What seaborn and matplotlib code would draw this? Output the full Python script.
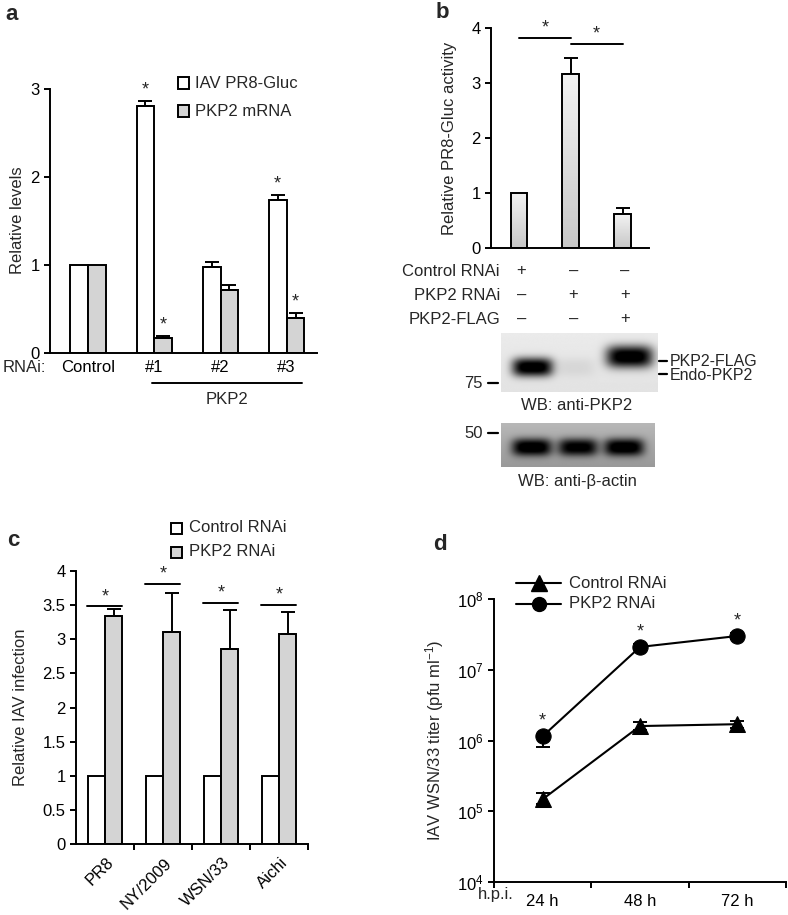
import numpy as np
import pandas as pd
import matplotlib
matplotlib.use('Agg')
import matplotlib.pyplot as plt
import seaborn as sns
from matplotlib.patches import Rectangle
from matplotlib.lines import Line2D
from matplotlib import transforms
from matplotlib.ticker import FuncFormatter

# ---- data ----
# panel a
a_groups = ['Control', '#1', '#2', '#3']
a_gluc = [1.0, 2.81, 0.98, 1.74]
a_gluc_err = [0.0, 0.05, 0.05, 0.05]
a_mrna = [1.0, 0.17, 0.72, 0.40]
a_mrna_err = [0.0, 0.02, 0.05, 0.05]
a_sig = [False, True, False, True]

# panel b
b_conditions = ['ctrl', 'kd', 'kd+flag']
b_activity = [1.0, 3.17, 0.61]
b_err = [0.0, 0.28, 0.12]
b_sig_pairs = [(0, 1, 3.82), (1, 2, 3.71)]
b_table = {
    'Control RNAi': ['+', '\u2013', '\u2013'],
    'PKP2 RNAi': ['\u2013', '+', '+'],
    'PKP2-FLAG': ['\u2013', '\u2013', '+'],
}
blot_flag_band = [0.0, 0.0, 1.0]
blot_endo_band = [1.0, 0.06, 0.0]
blot_actin_band = [0.75, 0.7, 0.75]

# panel c
c_strains = ['PR8', 'NY/2009', 'WSN/33', 'Aichi']
c_control = [1.0, 1.0, 1.0, 1.0]
c_pkp2 = [3.34, 3.10, 2.86, 3.07]
c_pkp2_err = [0.10, 0.58, 0.57, 0.33]
c_sig = [3.48, 3.81, 3.53, 3.50]

# panel d
d_times = ['24 h', '48 h', '72 h']
d_control = [1.48e5, 1.6e6, 1.7e6]
d_control_lo = [0.2e5, 0.2e6, 0.2e6]
d_control_hi = [0.35e5, 0.2e6, 0.2e6]
d_pkp2 = [1.15e6, 2.1e7, 3.0e7]
d_pkp2_lo = [0.35e6, 2.0e6, 3.0e6]
d_pkp2_hi = [0.1e6, 2.0e6, 3.0e6]

W, H = 788, 915
GRAY = '#d4d4d4'
FS = 12

sns.set_style('ticks')
plt.rcParams['font.family'] = ['Liberation Sans', 'DejaVu Sans']
plt.rcParams.update({
    'font.size': FS,
    'axes.linewidth': 1.4,
    'xtick.major.width': 1.4, 'ytick.major.width': 1.4,
    'xtick.major.size': 4, 'ytick.major.size': 4,
    'xtick.direction': 'out', 'ytick.direction': 'out',
    'xtick.labelsize': FS, 'ytick.labelsize': FS,
    'axes.labelsize': FS,
    'xtick.color': 'black', 'ytick.color': 'black',
    'axes.edgecolor': 'black',
    'mathtext.fontset': 'custom',
    'mathtext.rm': 'Liberation Sans',
    'mathtext.it': 'Liberation Sans:italic',
})

fig = plt.figure(figsize=(W / 100, H / 100), dpi=100)


def px_axes(l, t, r, b):
    return fig.add_axes([l / W, 1 - b / H, (r - l) / W, (b - t) / H])


def ftext(x, y, s, **kw):
    return fig.text(x / W, 1 - y / H, s, **kw)


def fline(x0, x1, y, lw=1.4, **kw):
    fig.add_artist(Line2D([x0 / W, x1 / W], [1 - y / H, 1 - y / H],
                          transform=fig.transFigure, color='black', lw=lw, **kw))


def star(ax, x, y, dy=2):
    ax.annotate('*', (x, y), xytext=(0, dy), textcoords='offset points',
                ha='center', va='bottom', fontsize=13, annotation_clip=False)


def bar_centers(container):
    return [p.get_x() + p.get_width() / 2 for p in container]


def up_errors(ax, xs, ys, errs, capsize=5):
    xs, ys, errs = np.array(xs), np.array(ys), np.array(errs)
    m = errs > 0
    ax.errorbar(xs[m], ys[m], yerr=[np.zeros(m.sum()), errs[m]], fmt='none',
                ecolor='black', elinewidth=1.4, capsize=capsize, capthick=1.4, zorder=1)


def ylabel_at(ax, text, right_px, center_px):
    # y-label anchor is its right edge on screen (rotated, va='bottom')
    ax.set_ylabel(text)
    ax.yaxis.set_label_coords(right_px / W, 1 - center_px / H, transform=fig.transFigure)


# ---------------- panel a ----------------
ax_a = px_axes(50, 89, 317, 353)
df_a = pd.DataFrame({
    'group': a_groups * 2,
    'series': ['gluc'] * 4 + ['mrna'] * 4,
    'value': a_gluc + a_mrna,
})
sns.barplot(data=df_a, x='group', y='value', hue='series', palette=['white', GRAY],
            edgecolor='black', linewidth=1.4, width=0.54, errorbar=None,
            legend=False, ax=ax_a)
for cont, vals, errs in zip(ax_a.containers, [a_gluc, a_mrna], [a_gluc_err, a_mrna_err]):
    xs = bar_centers(cont)
    up_errors(ax_a, xs, vals, errs)
    for x, v, e, s in zip(xs, vals, errs, a_sig):
        if s:
            star(ax_a, x, v + e)
ax_a.set_xlim(-0.58, 3.46)
ax_a.set_ylim(0, 3)
ax_a.set_yticks([0, 1, 2, 3])
ax_a.set_xlabel('')
ylabel_at(ax_a, 'Relative levels', 25, 220)
ax_a.tick_params(axis='x', length=0, pad=5)
sns.despine(ax=ax_a)
ftext(3, 368, 'RNAi:', ha='left', va='center')
fline(152, 302, 383)
ftext(227, 400, 'PKP2', ha='center', va='center')
for i, (lab, col) in enumerate([('IAV PR8-Gluc', 'white'), ('PKP2 mRNA', GRAY)]):
    y = 83 + 28 * i
    fig.add_artist(Rectangle((178 / W, 1 - (y + 5.5) / H), 11 / W, 11 / H,
                             transform=fig.transFigure, facecolor=col,
                             edgecolor='black', lw=1.4))
    ftext(195, y, lab, ha='left', va='center')

# ---------------- panel b ----------------
ax_b = px_axes(491, 28, 649, 248)
sns.barplot(x=b_conditions, y=b_activity, color=GRAY, edgecolor='black',
            linewidth=1.4, width=0.32, errorbar=None, ax=ax_b)
grad = np.linspace(0.78, 0.95, 64).reshape(-1, 1)
for p in ax_b.patches:
    bb = p.get_bbox()
    p.set_facecolor('none')
    p.set_zorder(2)
    im = ax_b.imshow(grad, cmap='gray', vmin=0, vmax=1, origin='lower', aspect='auto',
                     extent=[bb.x0, bb.x1, bb.y0, bb.y1], zorder=1.5)
    im.set_clip_path(p)
xs_b = bar_centers(ax_b.patches)
up_errors(ax_b, xs_b, b_activity, b_err)
for i, j, h in b_sig_pairs:
    ax_b.plot([xs_b[i], xs_b[j]], [h, h], color='black', lw=1.4, clip_on=False)
    star(ax_b, (xs_b[i] + xs_b[j]) / 2, h, dy=1)
ax_b.set_xlim(-0.54, 2.51)
ax_b.set_ylim(0, 4)
ax_b.set_yticks([0, 1, 2, 3, 4])
ax_b.set_xticks([])
ylabel_at(ax_b, 'Relative PR8-Gluc activity', 457, 138)
sns.despine(ax=ax_b)

tb = transforms.blended_transform_factory(ax_b.transData, fig.transFigure)
for r, (row, signs) in enumerate(b_table.items()):
    y = 271 + 24 * r
    ftext(500, y, row, ha='right', va='center')
    for x, s in zip(xs_b, signs):
        ax_b.text(x + 0.05, 1 - y / H, s, transform=tb, ha='center', va='center')


# western blots drawn as intensity images
def blot(ax, lanes, bands, bg_top, bg_bot, ny=120, nx=300):
    yy, xx = np.mgrid[0:1:ny * 1j, 0:1:nx * 1j]
    img = bg_top + (bg_bot - bg_top) * yy
    for inten, cy, sx, sy in bands:
        for lx, a in zip(lanes, inten):
            img = img - a * np.exp(-np.abs((xx - lx) / sx) ** 4) * np.exp(-np.abs((yy - cy) / sy) ** 2.5)
    ax.imshow(np.clip(img, 0, 1), cmap='gray', vmin=0, vmax=1, aspect='auto',
              extent=[0, 1, 1, 0], interpolation='bilinear')
    ax.axis('off')


ax_w1 = px_axes(501, 333, 657, 392)
blot(ax_w1, [0.2, 0.47, 0.82],
     [(blot_endo_band, 0.58, 0.13, 0.16), (blot_flag_band, 0.40, 0.15, 0.19)],
     0.92, 0.89)
ax_w2 = px_axes(501, 423, 655, 467)
blot(ax_w2, [0.2, 0.5, 0.8], [(blot_actin_band, 0.55, 0.13, 0.2)], 0.72, 0.6)

ftext(483, 383, '75', ha='right', va='center')
fline(488, 498, 383, lw=1.6)
ftext(483, 433, '50', ha='right', va='center')
fline(488, 498, 433, lw=1.6)
fline(659, 667, 361, lw=1.6)
ftext(670, 361, 'PKP2-FLAG', ha='left', va='center', fontsize=11.5)
fline(659, 667, 374, lw=1.6)
ftext(670, 376, 'Endo-PKP2', ha='left', va='center', fontsize=11.5)
ftext(577, 405, 'WB: anti-PKP2', ha='center', va='center')
ftext(577, 481, 'WB: anti-\u03b2-actin', ha='center', va='center')

# ---------------- panel c ----------------
ax_c = px_axes(76, 571, 308, 844)
df_c = pd.DataFrame({
    'strain': c_strains * 2,
    'series': ['Control RNAi'] * 4 + ['PKP2 RNAi'] * 4,
    'value': c_control + c_pkp2,
})
sns.barplot(data=df_c, x='strain', y='value', hue='series', palette=['white', GRAY],
            edgecolor='black', linewidth=1.4, width=0.6, errorbar=None,
            legend=False, ax=ax_c)
xs_c = bar_centers(ax_c.containers[1])
up_errors(ax_c, xs_c, c_pkp2, c_pkp2_err, capsize=5)
for i, h in enumerate(c_sig):
    ax_c.plot([i - 0.31, i + 0.29], [h, h], color='black', lw=1.4, clip_on=False)
    star(ax_c, i, h, dy=1)
ax_c.set_xlim(-0.5, 3.5)
ax_c.set_ylim(0, 4)
ax_c.set_yticks(np.arange(0, 4.01, 0.5))
ax_c.yaxis.set_major_formatter(FuncFormatter(lambda v, _: f'{v:g}'))
ax_c.set_xticks([0.5, 1.5, 2.5, 3.5])
ax_c.set_xticklabels([])
ax_c.set_xticks(range(4), minor=True)
ax_c.set_xticklabels(c_strains, minor=True, rotation=45, ha='right',
                     rotation_mode='anchor')
ax_c.tick_params(axis='x', which='minor', length=0, pad=8)
shift = transforms.ScaledTranslation(1 / 72, 0, fig.dpi_scale_trans)
for lab in ax_c.get_xticklabels(minor=True):
    lab.set_transform(lab.get_transform() + shift)
ax_c.set_xlabel('')
ylabel_at(ax_c, 'Relative IAV infection', 28, 707)
sns.despine(ax=ax_c)
for i, (lab, col) in enumerate([('Control RNAi', 'white'), ('PKP2 RNAi', GRAY)]):
    y = 528 + 24 * i
    fig.add_artist(Rectangle((171 / W, 1 - (y + 5.5) / H), 11 / W, 11 / H,
                             transform=fig.transFigure, facecolor=col,
                             edgecolor='black', lw=1.4))
    ftext(189, y, lab, ha='left', va='center')

# ---------------- panel d ----------------
ax_d = px_axes(494, 599, 786, 882)
xd = [0.5, 1.5, 2.5]
sns.lineplot(x=xd, y=d_control, color='black', lw=1.5, marker='^', markersize=12,
             markeredgecolor='black', ax=ax_d)
sns.lineplot(x=xd, y=d_pkp2, color='black', lw=1.5, marker='o', markersize=11,
             markeredgecolor='black', ax=ax_d)
ax_d.errorbar(xd, d_control, yerr=[d_control_lo, d_control_hi], fmt='none',
              ecolor='black', elinewidth=1.4, capsize=5, capthick=1.4)
ax_d.errorbar(xd, d_pkp2, yerr=[d_pkp2_lo, d_pkp2_hi], fmt='none',
              ecolor='black', elinewidth=1.4, capsize=5, capthick=1.4)
for x, v in zip(xd, d_pkp2):
    star(ax_d, x, v, dy=5)
ax_d.set_yscale('log')
ax_d.set_ylim(1e4, 1e8)
ax_d.set_yticks([1e4, 1e5, 1e6, 1e7, 1e8])
ax_d.yaxis.set_minor_locator(matplotlib.ticker.NullLocator())
ax_d.set_xlim(0, 3)
ax_d.set_xticks([0, 1, 2, 3])
ax_d.set_xticklabels([])
ax_d.set_xticks(xd, minor=True)
ax_d.set_xticklabels(d_times, minor=True)
ax_d.tick_params(axis='x', which='minor', length=0, pad=9)
ylabel_at(ax_d, 'IAV WSN/33 titer (pfu ml$^{-1}$)', 446, 740)
sns.despine(ax=ax_d)
ftext(496, 895, 'h.p.i.', ha='center', va='center')
for i, (lab, mk, ms) in enumerate([('Control RNAi', '^', 11), ('PKP2 RNAi', 'o', 10)]):
    y = 583 + 21 * i
    fline(516, 561, y, lw=1.5)
    fig.add_artist(Line2D([538.5 / W], [1 - y / H], transform=fig.transFigure,
                          marker=mk, markersize=ms, color='black', lw=0))
    ftext(569, y, lab, ha='left', va='center')

# panel letters
for s, x, y in [('a', 12, 14), ('b', 442, 13), ('c', 13, 540), ('d', 440, 544)]:
    ftext(x, y, s, ha='center', va='center', fontsize=16, fontweight='bold')

fig.savefig('out.png', dpi=100)
